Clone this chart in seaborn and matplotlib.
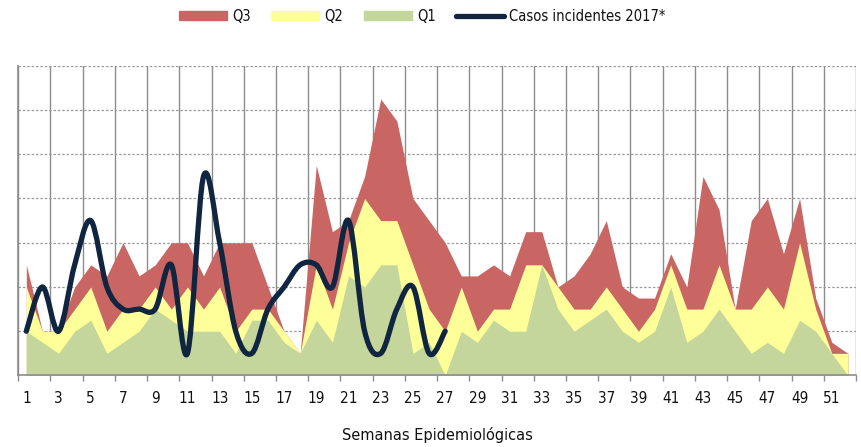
import numpy as np
import seaborn as sns
import matplotlib.pyplot as plt
from matplotlib.path import Path
from matplotlib.patches import PathPatch, Patch
from matplotlib.lines import Line2D

# epidemic channel - weekly quartiles and 2017 incident cases
weeks = list(range(1, 53))
q1 = [4, 3, 2, 4, 5, 2, 3, 4, 6, 5, 4, 4, 4, 2, 5, 5, 3, 2, 5, 3, 9, 8, 10, 10, 2, 3, 0,
      4, 3, 5, 4, 4, 10, 6, 4, 5, 6, 4, 3, 4, 8, 3, 4, 6, 4, 2, 3, 2, 5, 4, 2, 0]
q2 = [8, 4, 4, 6, 8, 4, 6, 6, 8, 6, 8, 6, 8, 4, 6, 6, 4, 2, 10, 6, 12, 16, 14, 14, 10, 6, 4,
      8, 4, 6, 6, 10, 10, 8, 6, 6, 8, 6, 4, 6, 10, 6, 6, 10, 6, 6, 8, 6, 12, 6, 2, 2]
q3 = [10, 4, 4, 8, 10, 9, 12, 9, 10, 12, 12, 9, 12, 12, 12, 8, 4, 2, 19, 13, 14, 18, 25, 23, 16, 14, 12,
      9, 9, 10, 9, 13, 13, 8, 9, 11, 14, 8, 7, 7, 11, 8, 18, 15, 6, 14, 16, 11, 16, 7, 3, 2]
casos_weeks = list(range(1, 28))
casos_2017 = [4, 8, 4, 10, 14, 8, 6, 6, 6, 10, 2, 18, 12, 4, 2, 6, 8, 10, 10, 8, 14, 4, 2, 6, 8, 2, 4]

c_q3 = "#C96663"
c_q2 = "#FFFF99"
c_q1 = "#C4D69B"
c_line = "#10253F"

sns.set_theme(style="white")
plt.rcParams['font.family'] = ['DejaVu Sans']
plt.rcParams['font.stretch'] = 'condensed'
plt.rcParams['text.color'] = '#111111'
plt.rcParams['xtick.color'] = '#111111'

fig = plt.figure(figsize=(8.62, 4.47), dpi=100)
ax = fig.add_axes([0.0212, 0.160, 0.9718, 0.693])

ax.fill_between(weeks, 0, q3, color=c_q3, lw=0)
ax.fill_between(weeks, 0, q2, color=c_q2, lw=0)
ax.fill_between(weeks, 0, q1, color=c_q1, lw=0)


# excel-style smoothed line: bezier segments through the points
def smooth_path(xs, ys):
    pts = np.column_stack([xs, ys]).astype(float)
    verts = [pts[0]]
    codes = [Path.MOVETO]
    n = len(pts)
    for i in range(n - 1):
        p0 = pts[i - 1] if i > 0 else pts[i]
        p1 = pts[i]
        p2 = pts[i + 1]
        p3 = pts[i + 2] if i + 2 < n else pts[i + 1]
        verts += [p1 + (p2 - p0) / 6, p2 - (p3 - p1) / 6, p2]
        codes += [Path.CURVE4] * 3
    return Path(verts, codes)


ax.add_patch(PathPatch(smooth_path(casos_weeks, casos_2017), fill=False,
                       edgecolor=c_line, lw=3.8, capstyle='round', joinstyle='round', zorder=5))

ax.set_xlim(0.5, 52.5)
ax.set_ylim(0, 28)
ax.set_yticks(np.arange(0, 29, 4))
ax.set_yticklabels([])
ax.set_xticks(np.arange(0.5, 53, 2))
ax.set_xticklabels([])
ax.set_xticks(weeks[::2], minor=True)
ax.set_xticklabels([str(w) for w in weeks[::2]], minor=True, fontsize=11)
ax.tick_params(axis='x', which='major', length=4, width=1, color="#8C8C8C", direction='out', bottom=True)
ax.tick_params(axis='x', which='minor', length=0, pad=11, labelcolor='#111111')
ax.tick_params(axis='y', length=0)

ax.set_axisbelow(True)
ax.grid(axis='y', color="#9A9A9A", ls=(0, (2, 1.5)), lw=0.9)
ax.grid(axis='x', which='major', color="#8C8C8C", ls='-', lw=1)
for s in ['top', 'right']:
    ax.spines[s].set_visible(False)
for s in ['left', 'bottom']:
    ax.spines[s].set_color("#8C8C8C")
    ax.spines[s].set_linewidth(1.2)

fig.text(437 / 862, 1 - 435 / 447, "Semanas Epidemiológicas", ha='center', va='center', fontsize=11.7)

handles = [Patch(color=c_q3, label="Q3"), Patch(color=c_q2, label="Q2"), Patch(color=c_q1, label="Q1"),
           Line2D([], [], color=c_line, lw=3.8, solid_capstyle='round', label="Casos incidentes 2017*")]
fig.legend(handles=handles, loc='center', bbox_to_anchor=(0.49, 0.964), ncol=4, frameon=False,
           fontsize=10.5, handlelength=3.3, handleheight=0.6, handletextpad=0.35, columnspacing=1.4)

fig.savefig("out.png", dpi=100)
